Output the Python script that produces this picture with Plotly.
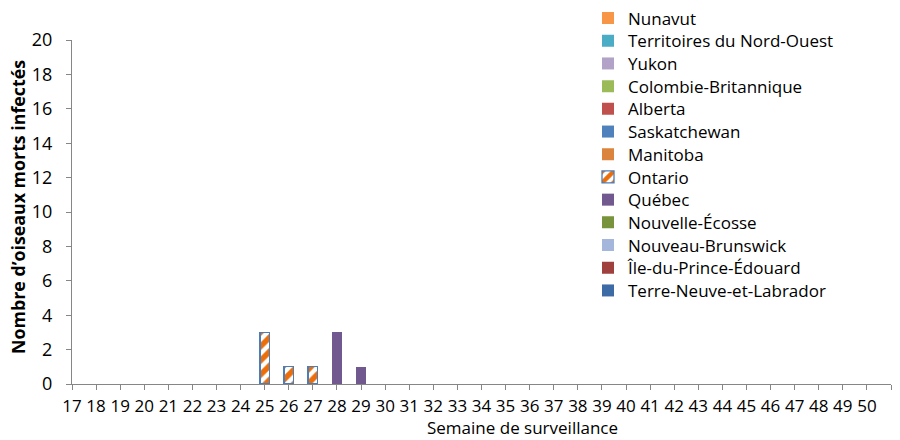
import plotly.graph_objects as go

weeks = list(range(17, 51))
week_labels = [str(w) for w in weeks]

provinces = [
    "Nunavut", "Territoires du Nord-Ouest", "Yukon", "Colombie-Britannique",
    "Alberta", "Saskatchewan", "Manitoba", "Ontario", "Québec",
    "Nouvelle-Écosse", "Nouveau-Brunswick", "Île-du-Prince-Édouard",
    "Terre-Neuve-et-Labrador",
]
colors = [
    "#F79646", "#4BACC6", "#B3A2C7", "#9BBB59", "#C0504D", "#4F81BD",
    "#DB843D", "#EB6E0A", "#71588F", "#77933C", "#A5B6DC", "#A0403E",
    "#3D6BA5",
]

counts = {p: [0] * len(weeks) for p in provinces}
ontario_weeks = [25, 26, 27]
ontario_vals = [3, 1, 1]
quebec_weeks = [28, 29]
quebec_vals = [3, 1]
for w, v in zip(ontario_weeks, ontario_vals):
    counts["Ontario"][weeks.index(w)] = v
for w, v in zip(quebec_weeks, quebec_vals):
    counts["Québec"][weeks.index(w)] = v

FONT = "Open Sans"
ML, MR, MT, MB = 72, 9, 40, 56
W, H = 900, 440
PW, PH = W - ML - MR, H - MT - MB

fig = go.Figure()
legend_layouts = {}
for i, (p, c) in enumerate(zip(provinces, colors)):
    y = [v if v else None for v in counts[p]]
    if p == "Ontario":
        marker = dict(color="white",
                      pattern=dict(shape="/", fgcolor=c, bgcolor="white", size=10,
                                   solidity=0.55, fgopacity=1),
                      line=dict(color="#4A7EBB", width=1.3))
    else:
        marker = dict(color=c, line=dict(width=0))
    lid = "legend" if i == 0 else f"legend{i+1}"
    fig.add_trace(go.Bar(x=weeks, y=y, name=p, marker=marker, width=0.4, legend=lid))
    ypix = 18.5 + 22.7 * i
    legend_layouts[lid] = dict(
        x=(588 - ML) / PW, y=(H - MB - ypix) / PH, xanchor="left", yanchor="middle",
        font=dict(family=FONT, size=17, color="black"),
        bgcolor="rgba(0,0,0,0)", borderwidth=0, itemwidth=30,
    )

fig.update_layout(
    width=W, height=H,
    margin=dict(l=ML, r=MR, t=MT, b=MB, autoexpand=False),
    barmode="stack",
    plot_bgcolor="white", paper_bgcolor="white",
    font=dict(family=FONT, size=17, color="black"),
    showlegend=True,
    xaxis=dict(range=[17, 51], tickmode="array",
               tickvals=list(range(17, 52)), ticktext=week_labels + [""],
               ticks="outside", ticklen=5, tickcolor="#868686", tickwidth=1,
               showline=True, linecolor="#868686", showgrid=False, zeroline=False,
               tickfont=dict(size=17), ticklabelstandoff=2, automargin=False),
    yaxis=dict(range=[0, 20], dtick=2, ticks="outside", ticklen=5, tickcolor="#868686",
               showline=True, linecolor="#868686", showgrid=False, zeroline=False,
               tickfont=dict(size=18), ticklabelstandoff=10, automargin=False),
    annotations=[
        dict(text="Semaine de surveillance", xref="paper", yref="paper",
             x=(522 - ML) / PW, y=(H - MB - 440) / PH, xanchor="center", yanchor="bottom",
             showarrow=False, font=dict(size=17), borderpad=0),
        dict(text="<b>Nombre d’oiseaux morts infectés</b>", xref="paper", yref="paper",
             x=(18 - ML) / PW, y=(H - MB - 207) / PH, xanchor="center", yanchor="middle",
             textangle=-90, showarrow=False, font=dict(size=17.8)),
    ],
    **legend_layouts,
)

fig.write_html("out.html", config={"displayModeBar": False},
               post_script="document.body.style.margin='0';")
